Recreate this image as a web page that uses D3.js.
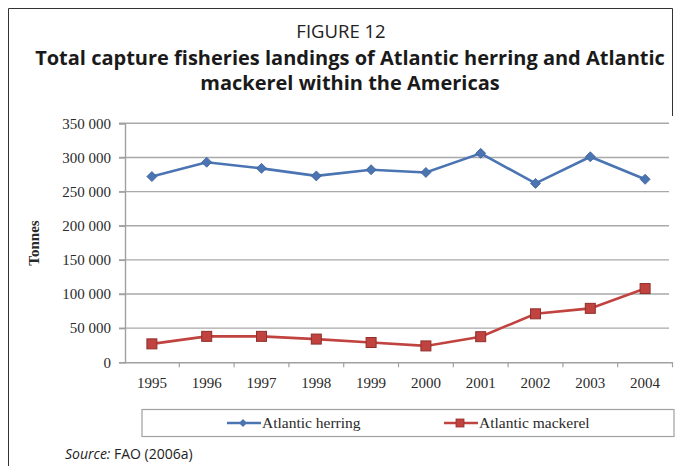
<!DOCTYPE html>
<html>
<head>
<meta charset="utf-8">
<script src="https://cdn.jsdelivr.net/npm/d3@7"></script>
<style>
  body { margin: 0; background: #fff; }
  svg { display: block; }
</style>
</head>
<body>
<svg id="chart" width="679" height="466"></svg>
<script>
// data
const years = ["1995", "1996", "1997", "1998", "1999", "2000", "2001", "2002", "2003", "2004"];
const herring = [272000, 293000, 284000, 273000, 282000, 278000, 306000, 262000, 301000, 268000];
const mackerel = [27000, 38000, 38000, 34000, 29000, 24000, 37500, 71000, 79000, 108000];
const yTicks = [0, 50000, 100000, 150000, 200000, 250000, 300000, 350000];
const seriesNames = ["Atlantic herring", "Atlantic mackerel"];

const svg = d3.select("#chart");
const serif = "'Liberation Serif', 'Times New Roman', serif";
const sans = "'Open Sans', 'Noto Sans', sans-serif";

// frame round the figure
svg.append("path")
    .attr("d", "M8.5,466 L8.5,8.5 L672.5,8.5 L672.5,116")
    .attr("fill", "none")
    .attr("stroke", "#333")
    .attr("stroke-width", 1);

// titles
svg.append("text")
    .attr("x", 341).attr("y", 38)
    .attr("text-anchor", "middle")
    .attr("font-family", sans).attr("font-size", "18.5px")
    .attr("fill", "#222")
    .text("FIGURE 12");

const titleLines = ["Total capture fisheries landings of Atlantic herring and Atlantic",
    "mackerel within the Americas"];
titleLines.forEach((t, i) => {
    svg.append("text")
        .attr("x", 350).attr("y", 65 + i * 25)
        .attr("text-anchor", "middle")
        .attr("font-family", sans).attr("font-size", "20px")
        .attr("font-weight", "bold")
        .attr("fill", "#1a1a1a")
        .text(t);
});

// scales
const x = d3.scaleBand().domain(years).range([124.5, 672.5]);
const y = d3.scaleLinear().domain([0, 350000]).range([362.3, 123.3]);

const fmt = v => d3.format(",")(v).replace(/,/g, " ");

// grid lines
svg.append("g")
    .selectAll("line")
    .data(yTicks.filter(d => d > 0))
    .enter().append("line")
    .attr("x1", 119).attr("x2", 669)
    .attr("y1", d => y(d)).attr("y2", d => y(d))
    .attr("stroke", "#a9a9a9")
    .attr("stroke-width", 1.4);

// y axis
const yAxis = svg.append("g")
    .attr("transform", "translate(125,0)")
    .call(d3.axisLeft(y).tickValues(yTicks).tickFormat(fmt).tickSize(6).tickPadding(8));
yAxis.select(".domain").attr("stroke", "#a0a0a0").attr("stroke-width", 1.4);
yAxis.selectAll(".tick line").attr("stroke", "#a0a0a0").attr("stroke-width", 1.4);
yAxis.selectAll("text")
    .attr("font-family", serif).attr("font-size", "15px")
    .attr("fill", "#2a2a2a");

// x axis, ticks at category boundaries
const xAxis = svg.append("g")
    .attr("transform", `translate(0,${y(0)})`)
    .call(d3.axisBottom(x).tickSize(0).tickPadding(15));
xAxis.select(".domain").attr("stroke", "#a0a0a0").attr("stroke-width", 1.4);
xAxis.selectAll("text")
    .attr("font-family", serif).attr("font-size", "15px")
    .attr("fill", "#2a2a2a");
xAxis.selectAll(".bound")
    .data(years)
    .enter().append("line")
    .attr("class", "bound")
    .attr("x1", d => x(d) + x.bandwidth()).attr("x2", d => x(d) + x.bandwidth())
    .attr("y1", 0).attr("y2", 5)
    .attr("stroke", "#a0a0a0").attr("stroke-width", 1.2);

// axis title
svg.append("text")
    .attr("transform", "translate(39,243) rotate(-90)")
    .attr("text-anchor", "middle")
    .attr("font-family", serif).attr("font-size", "15px")
    .attr("font-weight", "bold")
    .attr("fill", "#2a2a2a")
    .text("Tonnes");

const cx = d => x(d) + x.bandwidth() / 2;
const line = d3.line().x(d => cx(d.year)).y(d => y(d.value));

const herringColor = "#4a74b2";
const mackerelColor = "#c0433f";

const herringData = years.map((yr, i) => ({ year: yr, value: herring[i] }));
const mackerelData = years.map((yr, i) => ({ year: yr, value: mackerel[i] }));

svg.append("path")
    .datum(herringData)
    .attr("fill", "none")
    .attr("stroke", herringColor)
    .attr("stroke-width", 2.6)
    .attr("d", line);

svg.selectAll(".diamond")
    .data(herringData)
    .enter().append("path")
    .attr("class", "diamond")
    .attr("transform", d => `translate(${cx(d.year)},${y(d.value)})`)
    .attr("d", "M0,-5 L5,0 L0,5 L-5,0 Z")
    .attr("fill", herringColor)
    .attr("stroke", "#3b5f96").attr("stroke-width", 0.8);

svg.append("path")
    .datum(mackerelData)
    .attr("fill", "none")
    .attr("stroke", mackerelColor)
    .attr("stroke-width", 2.6)
    .attr("d", line);

svg.selectAll(".square")
    .data(mackerelData)
    .enter().append("rect")
    .attr("class", "square")
    .attr("x", d => cx(d.year) - 5).attr("y", d => y(d.value) - 5)
    .attr("width", 10).attr("height", 10)
    .attr("fill", mackerelColor)
    .attr("stroke", "#8f2f2c").attr("stroke-width", 1);

// legend
const legend = svg.append("g");
legend.append("rect")
    .attr("x", 142).attr("y", 409.5)
    .attr("width", 532).attr("height", 27)
    .attr("fill", "none")
    .attr("stroke", "#a0a0a0").attr("stroke-width", 1.2);

const legendItems = [
    { name: seriesNames[0], x0: 227, color: herringColor, shape: "diamond" },
    { name: seriesNames[1], x0: 444, color: mackerelColor, shape: "square" }
];
legendItems.forEach(it => {
    const ly = 423;
    legend.append("line")
        .attr("x1", it.x0).attr("x2", it.x0 + 34)
        .attr("y1", ly).attr("y2", ly)
        .attr("stroke", it.color).attr("stroke-width", 2.6);
    if (it.shape === "diamond") {
        legend.append("path")
            .attr("transform", `translate(${it.x0 + 16},${ly})`)
            .attr("d", "M0,-4 L4,0 L0,4 L-4,0 Z")
            .attr("fill", it.color);
    } else {
        legend.append("rect")
            .attr("x", it.x0 + 12).attr("y", ly - 4)
            .attr("width", 8).attr("height", 8)
            .attr("fill", it.color)
            .attr("stroke", "#8f2f2c").attr("stroke-width", 0.8);
    }
    legend.append("text")
        .attr("x", it.x0 + 35).attr("y", ly + 5)
        .attr("font-family", serif).attr("font-size", "15.5px")
        .attr("fill", "#2a2a2a")
        .text(it.name);
});

// source note
const src = svg.append("text")
    .attr("x", 65).attr("y", 459)
    .attr("font-family", sans).attr("font-size", "14px")
    .attr("fill", "#222");
src.append("tspan").attr("font-style", "italic").text("Source:");
src.append("tspan").text(" FAO (2006a)");
</script>
</body>
</html>
